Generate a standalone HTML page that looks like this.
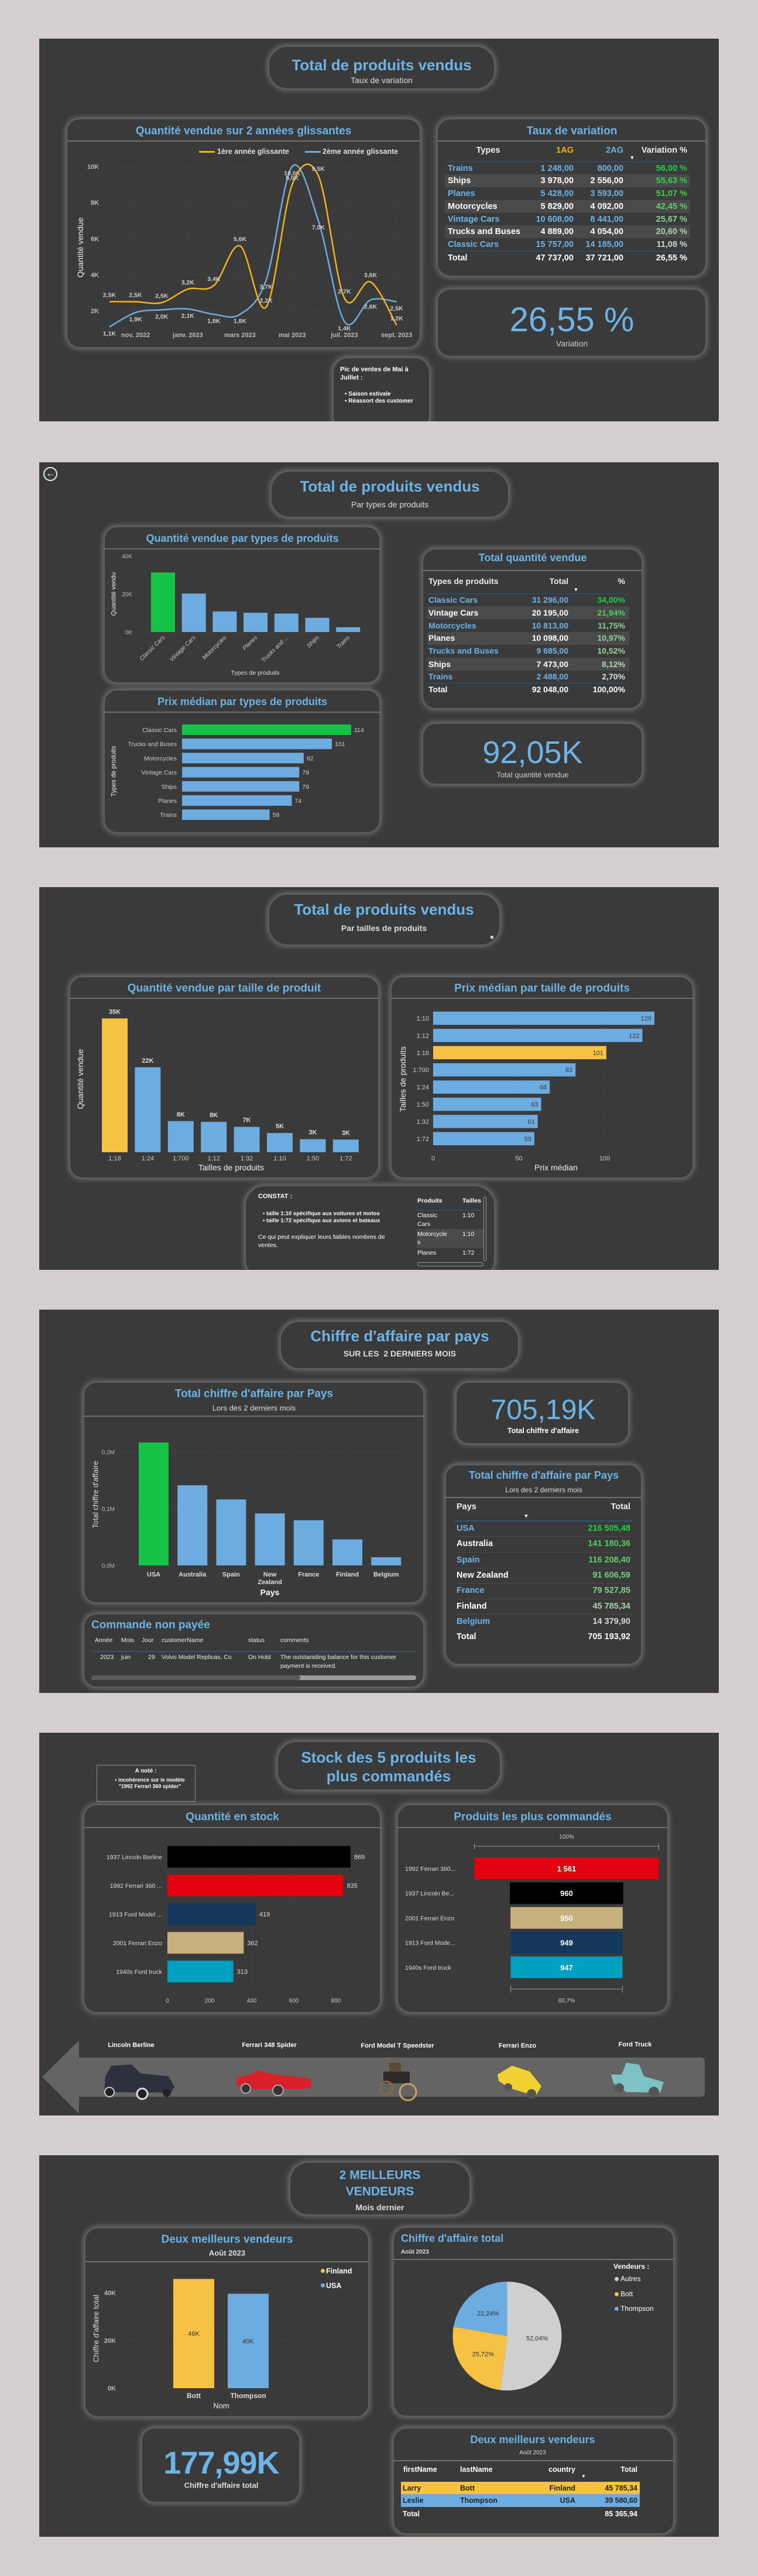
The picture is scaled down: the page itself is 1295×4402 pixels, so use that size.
<!DOCTYPE html>
<html lang="fr"><head><meta charset="utf-8"><title>Dashboard ventes</title>
<style>
*{box-sizing:border-box;margin:0;padding:0}
body{width:1295px;height:4402px;background:#d5d0cf;position:relative;overflow:hidden;font-family:"Liberation Sans",sans-serif;color:#e6e6e6}
.slide{position:absolute;left:67px;width:1161px;background:#3a3a3a}
.card{position:absolute;background:#3a3a3a;border:1px solid #5e5e5e;border-radius:22px;box-shadow:0 0 9px 3px rgba(215,215,215,.33)}
.tbox{border-radius:32px}
.sep{position:absolute;height:2px;background:#6e6e6e}
.tc,.tl,.tr{position:absolute;white-space:nowrap;line-height:1}
.tc{transform:translate(-50%,-50%)}
.tl{transform:translate(0,-50%)}
.tr{transform:translate(-100%,-50%)}
.blue{color:#6cb4e6}
.h1{font-weight:bold;font-size:26px;color:#6cb4e6}
.h2{font-weight:bold;font-size:19px;color:#6cb4e6}
.sub{font-size:14px;color:#ddd;font-weight:bold}
.b{font-weight:bold}
.band{position:absolute;background:#4a4a4a}
.rot{transform:translate(-50%,-50%) rotate(-90deg)}
svg.ch{position:absolute;overflow:visible}
svg text{font-family:"Liberation Sans",sans-serif}
</style></head><body>

<!-- ================= SLIDE 1 ================= -->
<div class="slide" style="top:66px;height:654px"></div>
<div class="card tbox" style="left:459px;top:79px;width:386px;height:73px"></div>
<div class="tc h1" style="left:652px;top:111px">Total de produits vendus</div>
<div class="tc sub" style="left:652px;top:137px;font-weight:normal">Taux de variation</div>

<div class="card" style="left:114px;top:203px;width:604px;height:391px"></div>
<div class="tc h2" style="left:416px;top:224px">Quantité vendue sur 2 années glissantes</div>
<div class="sep" style="left:114px;top:240px;width:604px"></div>
<div style="position:absolute;left:340px;top:258px;width:27px;height:3px;background:#f2b418"></div>
<div class="tl b" style="left:371px;top:259px;font-size:12.5px;color:#ddd">1ère année glissante</div>
<div style="position:absolute;left:521px;top:258px;width:27px;height:3px;background:#6cace0"></div>
<div class="tl b" style="left:551px;top:259px;font-size:12.5px;color:#ddd">2ème année glissante</div>
<div class="tc rot" style="left:137px;top:423px;font-size:14px;color:#eee">Quantité vendue</div>
<svg class="ch" id="lineChart" style="left:114px;top:203px;width:604px;height:391px" viewBox="114 203 604 391"></svg>

<div class="card" style="left:747px;top:203px;width:459px;height:269px"></div>
<div class="tc h2" style="left:977px;top:224px">Taux de variation</div>
<div class="sep" style="left:747px;top:240px;width:459px"></div>
<div style="position:absolute;left:760px;top:276px;width:419px;height:1px;background:#2f5377"></div>
<div class="band" style="left:760px;top:298px;width:419px;height:22px"></div>
<div class="band" style="left:760px;top:342px;width:419px;height:22px"></div>
<div class="band" style="left:760px;top:385px;width:419px;height:22px"></div>
<div style="position:absolute;left:760px;top:429px;width:419px;height:1px;background:#2f5377"></div>
<div style="font-size:14.5px;font-weight:bold">
<div class="tc" style="left:834px;top:257px;color:#eee">Types</div>
<div class="tr" style="left:980px;top:257px;color:#f2b418">1AG</div>
<div class="tr" style="left:1065px;top:257px;color:#6cb4e6">2AG</div>
<div class="tr" style="left:1174px;top:257px;color:#eee">Variation %</div>
<div class="tc" style="left:1080px;top:270px;font-size:9px;color:#fff">▼</div>
<div class="tl blue" style="left:765px;top:288px">Trains</div><div class="tr blue" style="left:980px;top:288px">1 248,00</div><div class="tr blue" style="left:1065px;top:288px">800,00</div><div class="tr" style="left:1174px;top:288px;color:#1fd33b">56,00 %</div>
<div class="tl" style="left:765px;top:309px;color:#fff">Ships</div><div class="tr" style="left:980px;top:309px;color:#fff">3 978,00</div><div class="tr" style="left:1065px;top:309px;color:#fff">2 556,00</div><div class="tr" style="left:1174px;top:309px;color:#2ad443">55,63 %</div>
<div class="tl blue" style="left:765px;top:331px">Planes</div><div class="tr blue" style="left:980px;top:331px">5 428,00</div><div class="tr blue" style="left:1065px;top:331px">3 593,00</div><div class="tr" style="left:1174px;top:331px;color:#39d24d">51,07 %</div>
<div class="tl" style="left:765px;top:353px;color:#fff">Motorcycles</div><div class="tr" style="left:980px;top:353px;color:#fff">5 829,00</div><div class="tr" style="left:1065px;top:353px;color:#fff">4 092,00</div><div class="tr" style="left:1174px;top:353px;color:#5ccf68">42,45 %</div>
<div class="tl blue" style="left:765px;top:375px">Vintage Cars</div><div class="tr blue" style="left:980px;top:375px">10 608,00</div><div class="tr blue" style="left:1065px;top:375px">8 441,00</div><div class="tr" style="left:1174px;top:375px;color:#8ccf92">25,67 %</div>
<div class="tl" style="left:765px;top:396px;color:#fff">Trucks and Buses</div><div class="tr" style="left:980px;top:396px;color:#fff">4 889,00</div><div class="tr" style="left:1065px;top:396px;color:#fff">4 054,00</div><div class="tr" style="left:1174px;top:396px;color:#a3d3a7">20,60 %</div>
<div class="tl blue" style="left:765px;top:418px">Classic Cars</div><div class="tr blue" style="left:980px;top:418px">15 757,00</div><div class="tr blue" style="left:1065px;top:418px">14 185,00</div><div class="tr" style="left:1174px;top:418px;color:#c8d9c9">11,08 %</div>
<div class="tl" style="left:765px;top:441px;color:#fff">Total</div><div class="tr" style="left:980px;top:441px;color:#fff">47 737,00</div><div class="tr" style="left:1065px;top:441px;color:#fff">37 721,00</div><div class="tr" style="left:1174px;top:441px;color:#fff">26,55 %</div>
</div>

<div class="card" style="left:747px;top:494px;width:459px;height:115px"></div>
<div class="tc blue" style="left:977px;top:547px;font-size:58px">26,55 %</div>
<div class="tc" style="left:977px;top:587px;font-size:14px;color:#ccc">Variation</div>

<div class="card" style="left:569px;top:611px;width:165px;height:125px;border-radius:26px"></div>
<div class="tl b" style="left:581px;top:632px;font-size:11px;color:#fff">Pic de ventes de Mai à</div>
<div class="tl b" style="left:581px;top:646px;font-size:11px;color:#fff">Juillet :</div>
<div class="tl b" style="left:589px;top:674px;font-size:10px;color:#fff">• Saison estivale</div>
<div class="tl b" style="left:589px;top:686px;font-size:10px;color:#fff">• Réassort des customer</div>
<div style="position:absolute;left:0;top:720px;width:1295px;height:70px;background:#d5d0cf"></div>

<!-- ================= SLIDE 2 ================= -->
<div class="slide" style="top:790px;height:658px"></div>
<div style="position:absolute;left:74px;top:798px;width:24px;height:24px;border:2px solid #eee;border-radius:50%;color:#eee;font-size:16px;line-height:19px;text-align:center">←</div>
<div class="card tbox" style="left:463px;top:805px;width:406px;height:79px"></div>
<div class="tc h1" style="left:666px;top:831px">Total de produits vendus</div>
<div class="tc sub" style="left:666px;top:862px;font-weight:normal">Par types de produits</div>

<div class="card" style="left:178px;top:900px;width:471px;height:267px"></div>
<div class="tc h2" style="left:414px;top:920px;font-size:18px">Quantité vendue par types de produits</div>
<div class="sep" style="left:178px;top:937px;width:471px"></div>
<div class="tc rot" style="left:195px;top:1015px;font-size:11px;color:#eee">Quantité vendu</div>
<div class="tc" style="left:436px;top:1150px;font-size:10.5px;color:#ddd">Types de produits</div>
<svg class="ch" id="typeBar" style="left:178px;top:900px;width:471px;height:267px" viewBox="178 900 471 267"></svg>

<div class="card" style="left:178px;top:1179px;width:471px;height:244px"></div>
<div class="tc h2" style="left:414px;top:1199px;font-size:18px">Prix médian par types de produits</div>
<div class="sep" style="left:178px;top:1216px;width:471px"></div>
<div class="tc rot" style="left:195px;top:1318px;font-size:11px;color:#eee">Types de produits</div>
<svg class="ch" id="typeHbar" style="left:178px;top:1179px;width:471px;height:244px" viewBox="178 1179 471 244"></svg>

<div class="card" style="left:722px;top:938px;width:375px;height:273px"></div>
<div class="tc h2" style="left:910px;top:953px;font-size:18px">Total quantité vendue</div>
<div class="sep" style="left:722px;top:974px;width:375px"></div>
<div style="position:absolute;left:730px;top:1014px;width:345px;height:1px;background:#2f5377"></div>
<div class="band" style="left:730px;top:1036px;width:345px;height:22px"></div>
<div class="band" style="left:730px;top:1080px;width:345px;height:22px"></div>
<div class="band" style="left:730px;top:1124px;width:345px;height:22px"></div>
<div style="position:absolute;left:730px;top:1167px;width:345px;height:1px;background:#2f5377"></div>
<div style="font-size:14px;font-weight:bold">
<div class="tl" style="left:732px;top:993px;color:#eee">Types de produits</div>
<div class="tr" style="left:971px;top:993px;color:#eee">Total</div>
<div class="tr" style="left:1068px;top:993px;color:#eee">%</div>
<div class="tc" style="left:984px;top:1008px;font-size:9px;color:#fff">▼</div>
<div class="tl blue" style="left:732px;top:1025px">Classic Cars</div><div class="tr blue" style="left:971px;top:1025px">31 296,00</div><div class="tr" style="left:1068px;top:1025px;color:#1fd33b">34,00%</div>
<div class="tl" style="left:732px;top:1047px;color:#fff">Vintage Cars</div><div class="tr" style="left:971px;top:1047px;color:#fff">20 195,00</div><div class="tr" style="left:1068px;top:1047px;color:#4bd05a">21,94%</div>
<div class="tl blue" style="left:732px;top:1069px">Motorcycles</div><div class="tr blue" style="left:971px;top:1069px">10 813,00</div><div class="tr" style="left:1068px;top:1069px;color:#8dd091">11,75%</div>
<div class="tl" style="left:732px;top:1090px;color:#fff">Planes</div><div class="tr" style="left:971px;top:1090px;color:#fff">10 098,00</div><div class="tr" style="left:1068px;top:1090px;color:#93d097">10,97%</div>
<div class="tl blue" style="left:732px;top:1112px">Trucks and Buses</div><div class="tr blue" style="left:971px;top:1112px">9 685,00</div><div class="tr" style="left:1068px;top:1112px;color:#98d29b">10,52%</div>
<div class="tl" style="left:732px;top:1135px;color:#fff">Ships</div><div class="tr" style="left:971px;top:1135px;color:#fff">7 473,00</div><div class="tr" style="left:1068px;top:1135px;color:#b2d6b4">8,12%</div>
<div class="tl blue" style="left:732px;top:1156px">Trains</div><div class="tr blue" style="left:971px;top:1156px">2 488,00</div><div class="tr" style="left:1068px;top:1156px;color:#d6dfd6">2,70%</div>
<div class="tl" style="left:732px;top:1178px;color:#fff">Total</div><div class="tr" style="left:971px;top:1178px;color:#fff">92 048,00</div><div class="tr" style="left:1068px;top:1178px;color:#fff">100,00%</div>
</div>

<div class="card" style="left:722px;top:1236px;width:375px;height:104px"></div>
<div class="tc blue" style="left:910px;top:1286px;font-size:54px">92,05K</div>
<div class="tc" style="left:910px;top:1324px;font-size:13px;color:#ccc">Total quantité vendue</div>

<!-- ================= SLIDE 3 ================= -->
<div class="slide" style="top:1516px;height:654px"></div>
<div class="card tbox" style="left:459px;top:1528px;width:395px;height:87px"></div>
<div class="tc h1" style="left:656px;top:1554px">Total de produits vendus</div>
<div class="tc sub" style="left:656px;top:1586px">Par tailles de produits</div>
<div style="position:absolute;left:838px;top:1599px;width:5px;height:5px;background:#ccc"></div>

<div class="card" style="left:119px;top:1669px;width:528px;height:344px"></div>
<div class="tc h2" style="left:383px;top:1689px">Quantité vendue par taille de produit</div>
<div class="sep" style="left:119px;top:1705px;width:528px"></div>
<div class="tc rot" style="left:137px;top:1844px;font-size:14px;color:#eee">Quantité vendue</div>
<div class="tc" style="left:395px;top:1995px;font-size:14px;color:#eee">Tailles de produits</div>
<svg class="ch" id="sizeBar" style="left:119px;top:1669px;width:528px;height:344px" viewBox="119 1669 528 344"></svg>

<div class="card" style="left:668px;top:1669px;width:516px;height:344px"></div>
<div class="tc h2" style="left:926px;top:1689px">Prix médian par taille de produits</div>
<div class="sep" style="left:668px;top:1705px;width:516px"></div>
<div class="tc rot" style="left:688px;top:1844px;font-size:14px;color:#eee">Tailles de produits</div>
<div class="tc" style="left:950px;top:1995px;font-size:14px;color:#eee">Prix médian</div>
<svg class="ch" id="sizeHbar" style="left:668px;top:1669px;width:516px;height:344px" viewBox="668 1669 516 344"></svg>

<div class="card" style="left:419px;top:2026px;width:426px;height:160px;border-radius:34px"></div>
<div class="tl b" style="left:441px;top:2045px;font-size:11px;color:#fff">CONSTAT :</div>
<div class="tl b" style="left:449px;top:2074px;font-size:9.5px;color:#fff">• taille 1:10 spécifique aux voitures et motos</div>
<div class="tl b" style="left:449px;top:2086px;font-size:9.5px;color:#fff">• taille 1:72 spécifique aux avions et bateaux</div>
<div class="tl" style="left:441px;top:2114px;font-size:10.5px;color:#fff">Ce qui peut expliquer leurs faibles nombres de</div>
<div class="tl" style="left:441px;top:2128px;font-size:10.5px;color:#fff">ventes.</div>
<div style="font-size:10.5px;color:#fff">
<div class="tl b" style="left:713px;top:2052px">Produits</div><div class="tl b" style="left:790px;top:2052px">Tailles</div>
<div style="position:absolute;left:712px;top:2068px;width:115px;height:1px;background:#2f5377"></div>
<div class="tl" style="left:713px;top:2077px">Classic</div><div class="tl" style="left:790px;top:2077px">1:10</div>
<div class="tl" style="left:713px;top:2092px">Cars</div>
<div class="band" style="left:712px;top:2100px;width:114px;height:33px"></div>
<div class="tl" style="left:713px;top:2109px">Motorcycle</div><div class="tl" style="left:790px;top:2109px">1:10</div>
<div class="tl" style="left:713px;top:2123px">s</div>
<div class="tl" style="left:713px;top:2141px">Planes</div><div class="tl" style="left:790px;top:2141px">1:72</div>
<div style="position:absolute;left:826px;top:2045px;width:5px;height:110px;border:1px solid #999;border-radius:3px"></div>
<div style="position:absolute;left:713px;top:2157px;width:113px;height:7px;border:1px solid #999;border-radius:4px"></div>
</div>
<div style="position:absolute;left:0;top:2170px;width:1295px;height:68px;background:#d5d0cf"></div>

<!-- ================= SLIDE 4 ================= -->
<div class="slide" style="top:2238px;height:655px"></div>
<div class="card tbox" style="left:479px;top:2258px;width:407px;height:81px"></div>
<div class="tc h1" style="left:683px;top:2283px">Chiffre d'affaire par pays</div>
<div class="tc sub" style="left:683px;top:2313px">SUR LES&nbsp; 2 DERNIERS MOIS</div>

<div class="card" style="left:143px;top:2362px;width:581px;height:377px"></div>
<div class="tc h2" style="left:434px;top:2382px">Total chiffre d'affaire par Pays</div>
<div class="tc" style="left:434px;top:2406px;font-size:13px;color:#ddd">Lors des 2 derniers mois</div>
<div class="sep" style="left:143px;top:2419px;width:581px"></div>
<div class="tc rot" style="left:163px;top:2554px;font-size:13px;color:#ddd">Total chiffre d'affaire</div>
<div class="tc b" style="left:461px;top:2721px;font-size:14px;color:#fff">Pays</div>
<svg class="ch" id="countryBar" style="left:143px;top:2362px;width:581px;height:377px" viewBox="143 2362 581 377"></svg>

<div class="card" style="left:143px;top:2758px;width:581px;height:125px"></div>
<div class="tl h2" style="left:156px;top:2777px">Commande non payée</div>
<div style="font-size:10.5px;color:#eee">
<div class="tl" style="left:162px;top:2803px">Année</div><div class="tl" style="left:207px;top:2803px">Mois</div><div class="tl" style="left:242px;top:2803px">Jour</div><div class="tl" style="left:276px;top:2803px">customerName</div><div class="tl" style="left:424px;top:2803px">status</div><div class="tl" style="left:479px;top:2803px">comments</div>
<div style="position:absolute;left:157px;top:2821px;width:553px;height:2px;background:#2f5377"></div>
<div class="tl" style="left:171px;top:2832px">2023</div><div class="tl" style="left:207px;top:2832px">juin</div><div class="tl" style="left:253px;top:2832px">29</div><div class="tl" style="left:276px;top:2832px">Volvo Model Replicas, Co</div><div class="tl" style="left:424px;top:2832px">On Hold</div><div class="tl" style="left:479px;top:2832px">The outstaniding balance for this customer</div>
<div class="tl" style="left:479px;top:2847px">payment is received.</div>
<div style="position:absolute;left:156px;top:2863px;width:555px;height:8px;background:#999;border-radius:4px"><div style="width:357px;height:8px;background:#5a5a5a;border-radius:4px"></div></div>
</div>

<div class="card" style="left:779px;top:2362px;width:295px;height:105px"></div>
<div class="tc blue" style="left:928px;top:2410px;font-size:48px">705,19K</div>
<div class="tc b" style="left:928px;top:2445px;font-size:12.5px;color:#fff">Total chiffre d'affaire</div>

<div class="card" style="left:761px;top:2503px;width:335px;height:341px"></div>
<div class="tc h2" style="left:929px;top:2521px;font-size:18px">Total chiffre d'affaire par Pays</div>
<div class="tc" style="left:929px;top:2546px;font-size:12px;color:#ddd">Lors des 2 derniers mois</div>
<div class="sep" style="left:761px;top:2558px;width:335px"></div>
<div style="font-size:14.5px;font-weight:bold">
<div class="tl" style="left:780px;top:2575px;color:#eee">Pays</div><div class="tr" style="left:1077px;top:2575px;color:#eee">Total</div>
<div class="tc" style="left:899px;top:2591px;font-size:9px;color:#fff">▼</div>
<div style="position:absolute;left:776px;top:2598px;width:303px;height:2px;background:#2f5377"></div>
<div style="position:absolute;left:776px;top:2625px;width:303px;height:1px;background:#484848"></div>
<div style="position:absolute;left:776px;top:2652px;width:303px;height:1px;background:#484848"></div>
<div style="position:absolute;left:776px;top:2679px;width:303px;height:1px;background:#484848"></div>
<div style="position:absolute;left:776px;top:2705px;width:303px;height:1px;background:#484848"></div>
<div style="position:absolute;left:776px;top:2732px;width:303px;height:1px;background:#484848"></div>
<div style="position:absolute;left:776px;top:2758px;width:303px;height:1px;background:#484848"></div>
<div class="tl blue" style="left:780px;top:2612px">USA</div><div class="tr" style="left:1077px;top:2612px;color:#1fd33b">216 505,48</div>
<div class="tl" style="left:780px;top:2638px;color:#fff">Australia</div><div class="tr" style="left:1077px;top:2638px;color:#52cf5e">141 180,36</div>
<div class="tl blue" style="left:780px;top:2666px">Spain</div><div class="tr" style="left:1077px;top:2666px;color:#5fcf69">116 208,40</div>
<div class="tl" style="left:780px;top:2692px;color:#fff">New Zealand</div><div class="tr" style="left:1077px;top:2692px;color:#78cf80">91 606,59</div>
<div class="tl blue" style="left:780px;top:2718px">France</div><div class="tr" style="left:1077px;top:2718px;color:#82cf89">79 527,85</div>
<div class="tl" style="left:780px;top:2745px;color:#fff">Finland</div><div class="tr" style="left:1077px;top:2745px;color:#a6d4a9">45 785,34</div>
<div class="tl blue" style="left:780px;top:2771px">Belgium</div><div class="tr" style="left:1077px;top:2771px;color:#cfdccf">14 379,90</div>
<div class="tl" style="left:780px;top:2797px;color:#fff">Total</div><div class="tr" style="left:1077px;top:2797px;color:#fff">705 193,92</div>
</div>

<!-- ================= SLIDE 5 ================= -->
<div class="slide" style="top:2961px;height:654px"></div>
<div class="card tbox" style="left:474px;top:2976px;width:381px;height:83px"></div>
<div class="tc h1" style="left:664px;top:3003px">Stock des 5 produits les</div>
<div class="tc h1" style="left:664px;top:3035px">plus commandés</div>
<div style="position:absolute;left:165px;top:3016px;width:169px;height:63px;border:1px solid #8a8a8a"></div>
<div class="tc b" style="left:249px;top:3027px;font-size:10px;color:#fff">A noté :</div>
<div class="tc b" style="left:256px;top:3042px;font-size:9px;color:#fff">• incohérence sur le modèle</div>
<div class="tc b" style="left:256px;top:3053px;font-size:9px;color:#fff">"1992 Ferrari 360 spider"</div>

<div class="card" style="left:143px;top:3084px;width:507px;height:355px"></div>
<div class="tc h2" style="left:397px;top:3105px">Quantité en stock</div>
<div class="sep" style="left:143px;top:3122px;width:507px"></div>
<svg class="ch" id="stockBar" style="left:143px;top:3084px;width:507px;height:355px" viewBox="143 3084 507 355"></svg>

<div class="card" style="left:679px;top:3084px;width:462px;height:355px"></div>
<div class="tc h2" style="left:910px;top:3105px">Produits les plus commandés</div>
<div class="sep" style="left:679px;top:3122px;width:462px"></div>
<svg class="ch" id="funnel" style="left:679px;top:3084px;width:462px;height:355px" viewBox="679 3084 462 355"></svg>

<svg class="ch" style="left:67px;top:3480px;width:1161px;height:135px" viewBox="67 3480 1161 135">
<polygon points="135,3487 135,3516 1200,3516 1204,3520 1204,3579 1200,3583 135,3583 135,3612 72,3549" fill="#646464"/>
<text x="224" y="3498" text-anchor="middle" font-size="11" font-weight="bold" fill="#fff">Lincoln Berline</text>
<text x="460" y="3498" text-anchor="middle" font-size="11" font-weight="bold" fill="#fff">Ferrari 348 Spider</text>
<text x="679" y="3499" text-anchor="middle" font-size="11" font-weight="bold" fill="#fff">Ford Model T Speedster</text>
<text x="884" y="3499" text-anchor="middle" font-size="11" font-weight="bold" fill="#fff">Ferrari Enzo</text>
<text x="1085" y="3497" text-anchor="middle" font-size="11" font-weight="bold" fill="#fff">Ford Truck</text>
<g><path d="M178 3575 L180 3548 L190 3530 L225 3528 L240 3543 L288 3548 L298 3566 L292 3576 Z" fill="#2c313d"/><circle cx="187" cy="3575" r="8" fill="#222" stroke="#ccc" stroke-width="2"/><circle cx="243" cy="3578" r="9" fill="#222" stroke="#ddd" stroke-width="3"/><circle cx="285" cy="3576" r="7" fill="#222"/></g>
<g><path d="M403 3562 L405 3550 L425 3546 L440 3538 L470 3545 L530 3552 L533 3568 L515 3570 L412 3570 Z" fill="#d82028"/><circle cx="420" cy="3569" r="8" fill="#333" stroke="#aaa" stroke-width="2"/><circle cx="475" cy="3572" r="9" fill="#333" stroke="#aaa" stroke-width="2"/></g>
<g><rect x="655" y="3540" width="45" height="20" fill="#2e2a25"/><rect x="665" y="3525" width="20" height="15" fill="#5a4a30"/><circle cx="660" cy="3568" r="11" fill="none" stroke="#8a6a3a" stroke-width="3"/><circle cx="697" cy="3575" r="14" fill="none" stroke="#c8a060" stroke-width="3"/></g>
<g><path d="M850 3545 L875 3530 L905 3540 L925 3565 L915 3582 L870 3568 L852 3556 Z" fill="#f2d230"/><circle cx="868" cy="3567" r="7" fill="#555"/><circle cx="908" cy="3578" r="8" fill="#555"/></g>
<g><path d="M1044 3545 L1048 3560 L1070 3575 L1128 3576 L1134 3558 L1100 3548 L1092 3528 L1070 3525 L1062 3545 Z" fill="#7fc2c6"/><circle cx="1058" cy="3568" r="8" fill="#555"/><circle cx="1117" cy="3575" r="9" fill="#555"/></g>
</svg>

<!-- ================= SLIDE 6 ================= -->
<div class="slide" style="top:3683px;height:652px"></div>
<div class="card tbox" style="left:495px;top:3695px;width:308px;height:90px"></div>
<div class="tc b blue" style="left:649px;top:3717px;font-size:21px">2 MEILLEURS</div>
<div class="tc b blue" style="left:649px;top:3745px;font-size:21px">VENDEURS</div>
<div class="tc sub" style="left:649px;top:3772px">Mois dernier</div>

<div class="card" style="left:145px;top:3807px;width:485px;height:323px"></div>
<div class="tc h2" style="left:388px;top:3827px">Deux meilleurs vendeurs</div>
<div class="tc sub" style="left:388px;top:3850px;font-size:13px">Août 2023</div>
<div class="sep" style="left:145px;top:3864px;width:485px"></div>
<div class="tc rot" style="left:164px;top:3979px;font-size:13px;color:#ddd">Chiffre d'affaire total</div>
<div class="tc" style="left:378px;top:4111px;font-size:13px;color:#eee">Nom</div>
<div style="position:absolute;left:548px;top:3877px;width:7px;height:7px;border-radius:50%;background:#f7c244"></div>
<div class="tl b" style="left:557px;top:3881px;font-size:12.5px;color:#fff">Finland</div>
<div style="position:absolute;left:548px;top:3902px;width:7px;height:7px;border-radius:50%;background:#6cace0"></div>
<div class="tl b" style="left:557px;top:3906px;font-size:12.5px;color:#fff">USA</div>
<svg class="ch" id="sellerBar" style="left:145px;top:3807px;width:485px;height:323px" viewBox="145 3807 485 323"></svg>

<div class="card" style="left:672px;top:3806px;width:479px;height:323px"></div>
<div class="tl h2" style="left:685px;top:3825px;font-size:18px">Chiffre d'affaire total</div>
<div class="tl b" style="left:685px;top:3849px;font-size:10px;color:#ddd">Août 2023</div>
<div class="sep" style="left:672px;top:3860px;width:479px"></div>
<div class="tl b" style="left:1048px;top:3873px;font-size:12px;color:#fff">Vendeurs :</div>
<div style="position:absolute;left:1050px;top:3891px;width:7px;height:7px;border-radius:50%;background:#cfcfcf"></div>
<div class="tl" style="left:1060px;top:3894px;font-size:12px;color:#fff">Autres</div>
<div style="position:absolute;left:1050px;top:3917px;width:7px;height:7px;border-radius:50%;background:#f7c244"></div>
<div class="tl" style="left:1060px;top:3920px;font-size:12px;color:#fff">Bott</div>
<div style="position:absolute;left:1050px;top:3942px;width:7px;height:7px;border-radius:50%;background:#6cace0"></div>
<div class="tl" style="left:1060px;top:3945px;font-size:12px;color:#fff">Thompson</div>
<svg class="ch" id="pie" style="left:672px;top:3870px;width:370px;height:250px" viewBox="672 3870 370 250"></svg>

<div class="card" style="left:242px;top:4149px;width:270px;height:127px"></div>
<div class="tc b blue" style="left:378px;top:4209px;font-size:54px;letter-spacing:-1px">177,99K</div>
<div class="tc b" style="left:378px;top:4247px;font-size:13px;color:#ddd">Chiffre d'affaire total</div>

<div class="card" style="left:672px;top:4149px;width:479px;height:181px"></div>
<div class="tc h2" style="left:910px;top:4169px;font-size:18px">Deux meilleurs vendeurs</div>
<div class="tc" style="left:910px;top:4192px;font-size:10px;color:#ddd">Août 2023</div>
<div class="sep" style="left:672px;top:4204px;width:479px"></div>
<div style="font-size:12.5px;font-weight:bold">
<div class="tl" style="left:689px;top:4220px;color:#fff">firstName</div><div class="tl" style="left:786px;top:4220px;color:#fff">lastName</div><div class="tr" style="left:983px;top:4220px;color:#fff">country</div><div class="tr" style="left:1089px;top:4220px;color:#fff">Total</div>
<div class="tc" style="left:997px;top:4232px;font-size:8px;color:#fff">▼</div>
<div style="position:absolute;left:685px;top:4241px;width:408px;height:21px;background:#f7c244"></div>
<div style="position:absolute;left:685px;top:4262px;width:408px;height:22px;background:#6cace0"></div>
<div class="tl" style="left:688px;top:4252px;color:#222">Larry</div><div class="tl" style="left:786px;top:4252px;color:#222">Bott</div><div class="tr" style="left:983px;top:4252px;color:#222">Finland</div><div class="tr" style="left:1089px;top:4252px;color:#222">45 785,34</div>
<div class="tl" style="left:688px;top:4273px;color:#222">Leslie</div><div class="tl" style="left:786px;top:4273px;color:#222">Thompson</div><div class="tr" style="left:983px;top:4273px;color:#222">USA</div><div class="tr" style="left:1089px;top:4273px;color:#222">39 580,60</div>
<div class="tl" style="left:688px;top:4296px;color:#fff">Total</div><div class="tr" style="left:1089px;top:4296px;color:#fff">85 365,94</div>
</div>

<script>
const NS='http://www.w3.org/2000/svg';
function el(p,tag,a){const e=document.createElementNS(NS,tag);for(const k in a)e.setAttribute(k,a[k]);p.appendChild(e);return e;}
function tx(p,x,y,s,a){const e=el(p,'text',Object.assign({x:x,y:y},a));e.textContent=s;return e;}
function fr(v,d){return v.toFixed(d).replace('.',',');}

/* ---- Chart 1: line chart ---- */
const lineMonths=['oct. 2022','nov. 2022','déc. 2022','janv. 2023','févr. 2023','mars 2023','avr. 2023','mai 2023','juin 2023','juil. 2023','août 2023','sept. 2023'];
const year1Values=[2.5,2.5,2.45,3.2,3.4,5.6,2.2,9.0,9.5,2.7,3.6,1.2];
const year2Values=[1.1,1.9,2.05,2.1,1.8,1.8,3.7,10.0,7.0,1.4,2.6,2.5];
const lineYTicks=[2,4,6,8,10];
(function(){
 const s=document.getElementById('lineChart');
 const lx=i=>187+i*44.6, ly=v=>531-(v-2)*30.8;
 lineYTicks.forEach(t=>{
  const g=el(s,'line',{x1:177,x2:688,y1:ly(t),y2:ly(t),stroke:'#5a5a5a','stroke-dasharray':'1 3'});
  
  
  const l=tx(s,169,ly(t)+4,t+'K',{'text-anchor':'end','font-size':11,'font-weight':'bold',fill:'#bbb'});
  
  
 });
 lineMonths.forEach((m,i)=>{
  if(i%2===1){
   const g=el(s,'line',{x1:lx(i),x2:lx(i),y1:282,y2:562,stroke:'#4e4e4e','stroke-dasharray':'1 3'});
   
   
   const l=tx(s,lx(i),576,m,{'text-anchor':'middle','font-size':11,'font-weight':'bold',fill:'#bbb'});
   
   
  }
 });
 function smooth(p){let d='M'+p[0][0]+','+p[0][1];for(let i=0;i<p.length-1;i++){const a=p[i-1]||p[i],b=p[i],c=p[i+1],e=p[i+2]||c;d+=' C'+(b[0]+(c[0]-a[0])/6)+','+(b[1]+(c[1]-a[1])/6)+' '+(c[0]-(e[0]-b[0])/6)+','+(c[1]-(e[1]-b[1])/6)+' '+c[0]+','+c[1];}return d;}
 [[year2Values,'#6cace0',1],[year1Values,'#f2b418',-1]].forEach(([vals,col,dir])=>{
  const pts=vals.map((v,i)=>[lx(i),ly(v)]);
  const p=el(s,'path',{d:smooth(pts),fill:'none',stroke:col,'stroke-width':2.5});
  
  
  vals.forEach((v,i)=>{
   const l=tx(s,lx(i),ly(v)+(dir<0?-8:15),fr(v,1)+'K',{'text-anchor':'middle','font-size':10.5,'font-weight':'bold',fill:'#ccc'});
   
   
  });
 });
})();

/* ---- Chart 2: qty by type ---- */
const typeCats=['Classic Cars','Vintage Cars','Motorcycles','Planes','Trucks and ...','Ships','Trains'];
const typeQty=[31296,20195,10813,10098,9685,7473,2488];
const typeYTicks=[0,20000,40000];
(function(){
 const s=document.getElementById('typeBar');
 const y=v=>1080-v/40000*130, x=i=>258+i*52.7;
 typeYTicks.forEach(t=>{
  const g=el(s,'line',{x1:235,x2:640,y1:y(t),y2:y(t),stroke:'#5a5a5a','stroke-dasharray':'1 3'});
  
  
  const l=tx(s,226,y(t)+4,(t/1000)+'K',{'text-anchor':'end','font-size':10,fill:'#bbb'});
  
  
 });
 typeCats.forEach((c,i)=>{
  const r=el(s,'rect',{x:x(i),y:y(typeQty[i]),width:41,height:1080-y(typeQty[i]),fill:i===0?'#15c447':'#6cace0'});
  
  
  const cx=x(i)+24;
  const l=tx(s,cx,1090,c,{'text-anchor':'end','font-size':10,'font-style':'italic',fill:'#ccc',transform:'rotate(-45 '+cx+' 1090)'});
  
  
 });
})();

/* ---- Chart 3: median price by type ---- */
const priceCats=['Classic Cars','Trucks and Buses','Motorcycles','Vintage Cars','Ships','Planes','Trains'];
const priceVals=[114,101,82,79,79,74,59];
(function(){
 const s=document.getElementById('typeHbar');
 const x=v=>311+v*2.535, y=i=>1247+i*24.2;
 priceCats.forEach((c,i)=>{
  const r=el(s,'rect',{x:311,y:y(i)-9,width:x(priceVals[i])-311,height:18,fill:i===0?'#15c447':'#6cace0'});
  
  
  const l=tx(s,302,y(i)+4,c,{'text-anchor':'end','font-size':10.5,fill:'#ccc'});
  
  
  const v=tx(s,x(priceVals[i])+5,y(i)+4,String(priceVals[i]),{'font-size':10.5,fill:'#ccc'});
  
  
 });
})();

/* ---- Chart 4: qty by size ---- */
const sizeCats=['1:18','1:24','1:700','1:12','1:32','1:10','1:50','1:72'];
const sizeQty=[34.8,22.1,8.1,7.9,6.6,5.0,3.4,3.3];
(function(){
 const s=document.getElementById('sizeBar');
 const y=v=>1969-v*6.57, x=i=>174+i*56.4;
 sizeCats.forEach((c,i)=>{
  const r=el(s,'rect',{x:x(i),y:y(sizeQty[i]),width:44,height:1969-y(sizeQty[i]),fill:i===0?'#f7c244':'#6cace0'});
  
  
  const v=tx(s,x(i)+22,y(sizeQty[i])-8,Math.round(sizeQty[i])+'K',{'text-anchor':'middle','font-size':11,'font-weight':'bold',fill:'#ddd'});
  
  
  const l=tx(s,x(i)+22,1983,c,{'text-anchor':'middle','font-size':11,fill:'#ccc'});
  
  
 });
})();

/* ---- Chart 5: median price by size ---- */
const sizePriceCats=['1:10','1:12','1:18','1:700','1:24','1:50','1:32','1:72'];
const sizePriceVals=[129,122,101,83,68,63,61,59];
const sizePriceTicks=[0,50,100];
(function(){
 const s=document.getElementById('sizeHbar');
 const x=v=>740+v*2.93, y=i=>1740+i*29.4;
 sizePriceTicks.forEach(t=>{
  const g=el(s,'line',{x1:x(t),x2:x(t),y1:1720,y2:1962,stroke:'#555','stroke-dasharray':'1 3'});
  
  
  const l=tx(s,x(t),1983,String(t),{'text-anchor':'middle','font-size':11,fill:'#ccc'});
  
  
 });
 sizePriceCats.forEach((c,i)=>{
  const r=el(s,'rect',{x:740,y:y(i)-11.3,width:x(sizePriceVals[i])-740,height:22.6,fill:c==='1:18'?'#f7c244':'#6cace0'});
  
  
  const l=tx(s,733,y(i)+4,c,{'text-anchor':'end','font-size':11,fill:'#ccc'});
  
  
  const v=tx(s,x(sizePriceVals[i])-5,y(i)+4,String(sizePriceVals[i]),{'text-anchor':'end','font-size':11,fill:'#3a3a3a'});
  
  
 });
})();

/* ---- Chart 6: CA by country ---- */
const countryCats=['USA','Australia','Spain','New Zealand','France','Finland','Belgium'];
const countryCA=[216.5,141.2,116.2,91.6,79.5,45.8,14.4];
const countryTicks=[0,100,200];
(function(){
 const s=document.getElementById('countryBar');
 const y=v=>2675-v*0.97, x=i=>237+i*66.2;
 countryTicks.forEach(t=>{
  const g=el(s,'line',{x1:202,x2:700,y1:y(t),y2:y(t),stroke:'#5a5a5a','stroke-dasharray':'1 3'});
  
  
  const l=tx(s,196,y(t)+4,fr(t/1000,1)+'M',{'text-anchor':'end','font-size':10,fill:'#bbb'});
  
  
 });
 countryCats.forEach((c,i)=>{
  const r=el(s,'rect',{x:x(i),y:y(countryCA[i]),width:51,height:2675-y(countryCA[i]),fill:i===0?'#15c447':'#6cace0'});
  
  
  const parts=c.split(' ');
  parts.forEach((p,k)=>{
   const l=tx(s,x(i)+25.5,2694+k*13,p,{'text-anchor':'middle','font-size':11,'font-weight':'bold',fill:'#ddd'});
   
   
  });
 });
})();

/* ---- Chart 7: stock ---- */
const stockCats=['1937 Lincoln Berline','1992 Ferrari 360 ...','1913 Ford Model ...','2001 Ferrari Enzo','1940s Ford truck'];
const stockVals=[869,835,419,362,313];
const stockColors=['#000000','#e3000f','#14375e','#c5b07e','#00a0c1'];
const stockTicks=[0,200,400,600,800];
(function(){
 const s=document.getElementById('stockBar');
 const x=v=>286+v*0.36, y=i=>3173+i*49;
 stockTicks.forEach(t=>{
  const g=el(s,'line',{x1:x(t),x2:x(t),y1:3137,y2:3405,stroke:'#4e4e4e','stroke-dasharray':'1 3'});
  
  
  const l=tx(s,x(t),3422,String(t),{'text-anchor':'middle','font-size':10,fill:'#ccc'});
  
  
 });
 stockCats.forEach((c,i)=>{
  const r=el(s,'rect',{x:286,y:y(i)-18.5,width:x(stockVals[i])-286,height:37,fill:stockColors[i]});
  
  
  const l=tx(s,277,y(i)+4,c,{'text-anchor':'end','font-size':10.5,fill:'#ddd'});
  
  
  const v=tx(s,x(stockVals[i])+6,y(i)+4,String(stockVals[i]),{'font-size':11,fill:'#ddd'});
  
  
 });
})();

/* ---- Chart 8: funnel ---- */
const orderCats=['1992 Ferrari 360...','1937 Lincoln Be...','2001 Ferrari Enzo','1913 Ford Mode...','1940s Ford truck'];
const orderVals=[1561,960,950,949,947];
const orderColors=['#e3000f','#000000','#c5b07e','#14375e','#00a0c1'];
(function(){
 const s=document.getElementById('funnel');
 const w=v=>v/orderVals[0]*315, cx=968, y=i=>3193+i*42.2;
 const top=el(s,'path',{d:'M'+(cx-w(orderVals[0])/2)+' 3150 V3160 M'+(cx-w(orderVals[0])/2)+' 3155 H'+(cx+w(orderVals[0])/2)+' M'+(cx+w(orderVals[0])/2)+' 3150 V3162',stroke:'#999',fill:'none'});
 
 
 const t1=tx(s,cx,3142,'100%',{'text-anchor':'middle','font-size':10,fill:'#ccc'});
 
 
 const last=orderVals[orderVals.length-1];
 const bot=el(s,'path',{d:'M'+(cx-w(last)/2)+' 3393 V3405 M'+(cx-w(last)/2)+' 3399 H'+(cx+w(last)/2)+' M'+(cx+w(last)/2)+' 3393 V3405',stroke:'#999',fill:'none'});
 
 
 const t2=tx(s,cx,3422,fr(last/orderVals[0]*100,1)+'%',{'text-anchor':'middle','font-size':10,fill:'#ccc'});
 
 
 orderCats.forEach((c,i)=>{
  const r=el(s,'rect',{x:cx-w(orderVals[i])/2,y:y(i)-18.5,width:w(orderVals[i]),height:37,fill:orderColors[i]});
  
  
  const l=tx(s,692,y(i)+4,c,{'font-size':10.5,fill:'#ddd'});
  
  
  const v=tx(s,cx,y(i)+5,orderVals[i].toLocaleString('fr-FR').replace(/\u202f|\u00a0/g,' '),{'text-anchor':'middle','font-size':13,'font-weight':'bold',fill:'#fff'});
  
  
 });
})();

/* ---- Chart 9: sellers bar ---- */
const sellerNames=['Bott','Thompson'];
const sellerCA=[45.79,39.58];
const sellerColors=['#f7c244','#6cace0'];
const sellerTicks=[0,20,40];
(function(){
 const s=document.getElementById('sellerBar');
 const y=v=>4081-v*4.075, x=i=>296+i*93;
 sellerTicks.forEach(t=>{
  const g=el(s,'line',{x1:207,x2:545,y1:y(t),y2:y(t),stroke:'#5a5a5a','stroke-dasharray':'1 3'});
  
  
  const l=tx(s,198,y(t)+4,t+'K',{'text-anchor':'end','font-size':11,'font-weight':'bold',fill:'#bbb'});
  
  
 });
 sellerNames.forEach((n,i)=>{
  const r=el(s,'rect',{x:x(i),y:y(sellerCA[i]),width:70,height:4081-y(sellerCA[i]),fill:sellerColors[i]});
  
  
  const v=tx(s,x(i)+35,y(sellerCA[i]/2)+4,Math.round(sellerCA[i])+'K',{'text-anchor':'middle','font-size':11,fill:'#333'});
  
  
  const l=tx(s,x(i)+35,4098,n,{'text-anchor':'middle','font-size':12,'font-weight':'bold',fill:'#ddd'});
  
  
 });
})();

/* ---- Chart 10: pie ---- */
const pieNames=['Autres','Bott','Thompson'];
const pieValues=[52.04,25.72,22.24];
const pieColors=['#cfcfcf','#f7c244','#6cace0'];
(function(){
 const s=document.getElementById('pie');
 const cx=866.5, cy=3992, r=93;
 const tot=pieValues.reduce((a,b)=>a+b,0);
 let a0=-Math.PI/2;
 pieValues.forEach((v,i)=>{
  const a1=a0+v/tot*2*Math.PI;
  const large=(a1-a0)>Math.PI?1:0;
  const d='M'+cx+','+cy+' L'+(cx+r*Math.cos(a0))+','+(cy+r*Math.sin(a0))+' A'+r+','+r+' 0 '+large+' 1 '+(cx+r*Math.cos(a1))+','+(cy+r*Math.sin(a1))+' Z';
  const p=el(s,'path',{d:d,fill:pieColors[i]});
  
  
  const am=(a0+a1)/2;
  const l=tx(s,cx+r*0.55*Math.cos(am),cy+r*0.55*Math.sin(am)+4,fr(v,2)+'%',{'text-anchor':'middle','font-size':11,fill:'#333'});
  
  
  a0=a1;
 });
})();
</script>
</body></html>
